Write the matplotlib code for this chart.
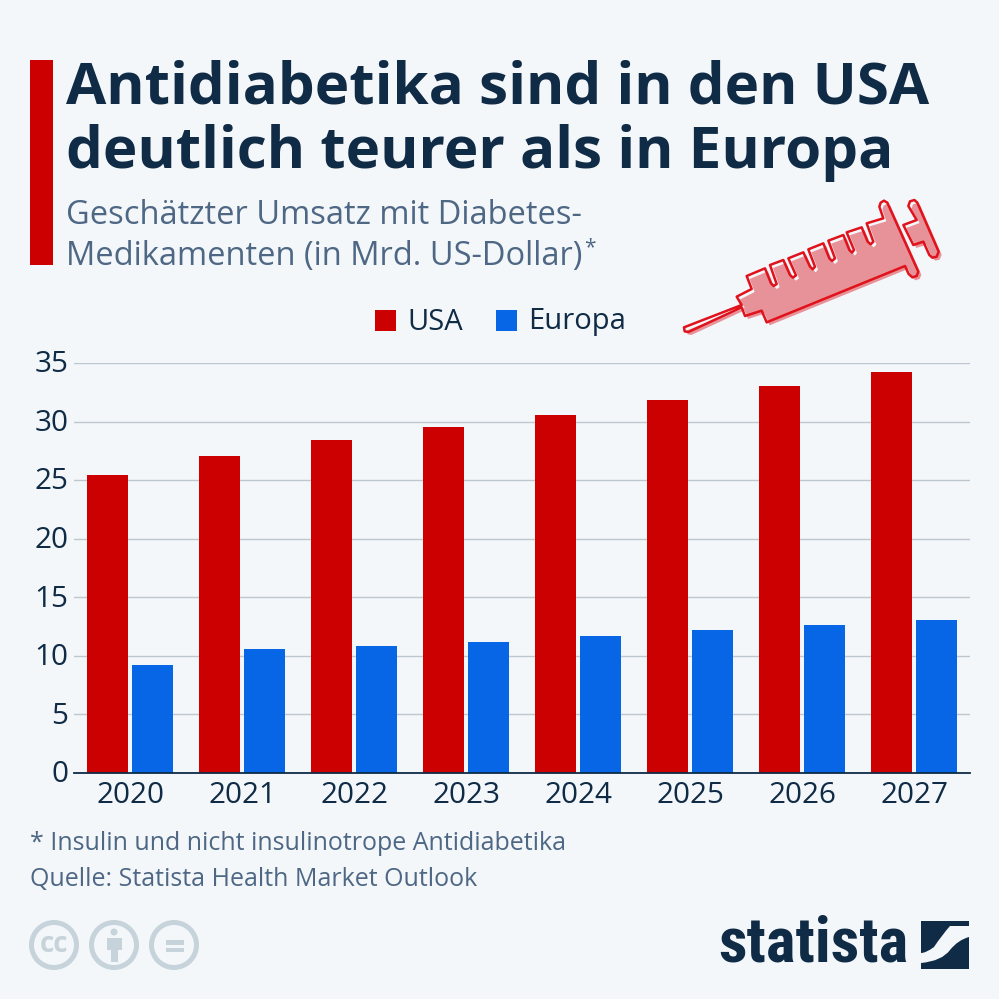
import numpy as np
import matplotlib
matplotlib.use("Agg")
import matplotlib.pyplot as plt
from matplotlib.patches import Polygon, Circle, Rectangle, PathPatch
from matplotlib.path import Path
from matplotlib.transforms import ScaledTranslation

years = [2020, 2021, 2022, 2023, 2024, 2025, 2026, 2027]
usa = [25.4, 27.1, 28.4, 29.5, 30.6, 31.8, 33.0, 34.2]
europa = [9.2, 10.6, 10.8, 11.2, 11.7, 12.2, 12.6, 13.1]
y_ticks = [0, 5, 10, 15, 20, 25, 30, 35]

BG = "#f4f7fa"
NAVY = "#0f2b46"
SLATE = "#4d6784"
RED = "#cc0000"
BLUE = "#0666e5"
GRID = "#bcc7cf"
ICON = "#c6d3db"

plt.rcParams["font.family"] = ["Open Sans", "DejaVu Sans"]

W = 999
fig = plt.figure(figsize=(W / 100, W / 100), dpi=100, facecolor=BG)

# overlay in pixel coords for header, footer and icons
bg = fig.add_axes([0, 0, 1, 1])
bg.set_xlim(0, W)
bg.set_ylim(W, 0)
bg.axis("off")

bg.add_patch(Rectangle((30, 60), 23, 205, color=RED, lw=0))
bg.text(66, 89, "Antidiabetika sind in den USA", fontsize=42, fontweight="bold", color=NAVY, va="center")
bg.text(66, 153, "deutlich teurer als in Europa", fontsize=42, fontweight="bold", color=NAVY, va="center")
bg.text(66, 215, "Geschätzter Umsatz mit Diabetes-", fontsize=23.5, color=SLATE, va="center")
bg.text(66, 256, "Medikamenten (in Mrd. US-Dollar)", fontsize=23.5, color=SLATE, va="center")
bg.text(584, 248, "*", fontsize=15, color=SLATE, va="center")

# legend
bg.add_patch(Rectangle((375, 310), 21, 21, color=RED, lw=0))
bg.text(407, 322, "USA", fontsize=21, color=NAVY, va="center")
bg.add_patch(Rectangle((496, 310), 21, 21, color=BLUE, lw=0))
bg.text(528, 322, "Europa", fontsize=21, color=NAVY, va="center")

body = [(42, 412), (215, 345), (200, 320), (245, 297), (230, 258), (285, 235), (303, 280), (311, 288), (320, 282),
        (300, 225), (340, 210), (360, 255), (369, 263), (378, 256), (355, 205), (400, 187), (420, 230), (428, 238), (435, 230),
        (415, 178), (460, 160), (478, 205), (486, 213), (495, 205), (475, 152), (520, 135), (538, 180), (546, 188), (552, 180),
        (530, 127), (575, 112), (593, 155), (602, 163), (610, 155), (590, 100), (640, 85), (628, 50), (632, 38), (642, 32), (652, 38),
        (745, 245), (740, 258), (727, 262), (716, 252), (705, 228), (290, 397), (275, 362), (225, 378), (215, 352), (55, 426), (44, 424)]
plunger = [(700, 105), (740, 90), (715, 48), (720, 34), (733, 30), (742, 38), (806, 185), (800, 200), (787, 203), (778, 195), (760, 155), (730, 165)]
for shape in (body, plunger):
    pts = np.array(shape) / 3 + [670, 190]
    bg.add_patch(Polygon(pts + [3, 3], closed=True, facecolor="#e79298", edgecolor="none"))
    bg.add_patch(Polygon(pts, closed=True, facecolor="none", edgecolor="#e0121c", lw=1.8, joinstyle="round"))

# chart
ax = fig.add_axes([74 / W, 1 - 773 / W, 896 / W, 410 / W], facecolor="none")
x = np.arange(len(years))
ax.bar(x - 0.2, usa, width=0.366, color=RED, zorder=3, label="USA")
ax.bar(x + 0.2, europa, width=0.366, color=BLUE, zorder=3, label="Europa")
ax.set_xlim(-0.5, 7.5)
ax.set_ylim(0, 35)
ax.set_yticks(y_ticks)
ax.set_xticks(x)
ax.set_xticklabels(years)
ax.grid(axis="y", color=GRID, lw=1, zorder=0)
ax.tick_params(axis="both", length=0, labelsize=21.3, labelcolor=NAVY)
ax.tick_params(axis="x", pad=6)
ax.tick_params(axis="y", pad=4)
shift = ScaledTranslation(0, 1.2 / 72, fig.dpi_scale_trans)
for label in ax.get_yticklabels():
    label.set_transform(label.get_transform() + shift)
for side in ["top", "right", "left"]:
    ax.spines[side].set_visible(False)
ax.spines["bottom"].set_color(NAVY)
ax.spines["bottom"].set_linewidth(1.3)
ax.spines["bottom"].set_zorder(4)

# footer
bg.text(30, 843, "* Insulin und nicht insulinotrope Antidiabetika", fontsize=18, color=SLATE, va="center")
bg.text(30, 879, "Quelle: Statista Health Market Outlook", fontsize=18, color=SLATE, va="center")

# licence icons
for cx in (54, 114, 174):
    bg.add_patch(Circle((cx, 945), 22.5, facecolor="none", edgecolor=ICON, lw=3.6))
bg.text(54, 944, "cc", fontsize=20, fontweight="bold", color=ICON, ha="center", va="center")
bg.add_patch(Circle((114, 932), 3.5, color=ICON, lw=0))
bg.add_patch(Polygon([(107, 938), (122, 938), (122, 950), (118, 950), (118, 962), (111, 962), (111, 950), (107, 950)],
                     closed=True, color=ICON, lw=0))
bg.add_patch(Rectangle((166, 940), 18, 4.5, color=ICON, lw=0))
bg.add_patch(Rectangle((166, 947.5), 18, 4.5, color=ICON, lw=0))

# statista logo
bg.text(718, 945, "statista", fontsize=45.3, fontweight="bold", family=["Roboto Condensed", "Liberation Sans"], color=NAVY, va="center")
upper = Path([(921, 921), (969, 921), (969, 926), (950, 926), (942, 935), (934, 947), (926, 953), (921, 953), (921, 921)],
             [Path.MOVETO, Path.LINETO, Path.LINETO, Path.LINETO, Path.CURVE3, Path.CURVE3, Path.CURVE3, Path.CURVE3, Path.CLOSEPOLY])
lower = Path([(969, 937), (969, 969), (921, 969), (921, 963), (942, 961), (950, 950), (958, 940), (969, 937)],
             [Path.MOVETO, Path.LINETO, Path.LINETO, Path.LINETO, Path.CURVE3, Path.CURVE3, Path.CURVE3, Path.CLOSEPOLY])
bg.add_patch(PathPatch(upper, facecolor=NAVY, edgecolor="none"))
bg.add_patch(PathPatch(lower, facecolor=NAVY, edgecolor="none"))

fig.savefig("out.png", dpi=100, facecolor=BG)
